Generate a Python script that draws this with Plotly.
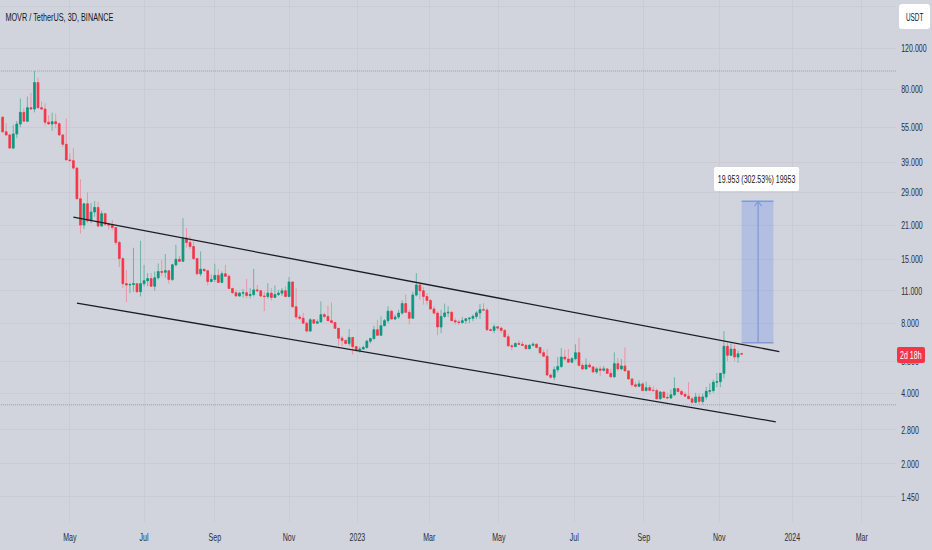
import math
import pandas as pd
import plotly.graph_objects as go

# MOVR/USDT 3D candles
first_open = 60.7
closes = [
    52.6, 51.0, 44.8, 51.5, 56.8, 63.7, 58.4, 66.7, 65.8, 85.4,
    66.7, 65.8, 57.8, 56.8, 58.1, 57.0, 51.0, 46.5, 39.9, 39.6,
    36.8, 27.2, 21.0, 25.9, 21.9, 23.9, 25.0, 20.8, 23.5, 21.2,
    21.0, 20.5, 17.7, 15.1, 11.8, 11.65, 11.7, 11.8, 10.9, 11.8,
    12.15, 12.4, 11.5, 12.5, 13.3, 13.2, 13.4, 12.3, 14.2, 15.0,
    14.7, 18.5, 17.7, 17.0, 15.1, 13.0, 13.6, 13.4, 12.05, 12.3,
    12.8, 11.95, 13.0, 12.7, 11.25, 10.8, 10.45, 10.75, 10.8, 10.5,
    10.6, 11.1, 11.0, 10.45, 10.4, 10.75, 10.3, 10.6, 10.75, 11.0,
    10.4, 12.0, 9.4, 8.5, 8.4, 8.0, 7.4, 8.27, 8.0, 8.1,
    8.7, 8.55, 8.2, 8.05, 7.6, 6.9, 6.75, 6.55, 6.95, 6.35,
    6.12, 6.2, 6.3, 6.7, 6.87, 7.5, 7.1, 7.8, 8.2, 9.0,
    8.33, 8.5, 8.83, 9.7, 8.9, 8.4, 10.55, 11.65, 11.0, 10.4,
    10.0, 9.2, 8.83, 7.7, 8.55, 8.85, 8.9, 8.2, 8.1, 8.05,
    8.2, 8.35, 8.4, 8.55, 8.85, 9.13, 9.1, 7.5, 7.45, 7.72,
    7.62, 7.45, 7.0, 6.4, 6.35, 6.55, 6.5, 6.43, 6.22, 6.43,
    6.5, 6.3, 5.98, 5.78, 4.8, 4.7, 5.06, 5.22, 5.73, 5.62,
    5.45, 5.64, 5.98, 5.28, 5.1, 5.3, 5.2, 4.95, 5.1, 5.03,
    5.1, 4.88, 4.72, 5.37, 5.1, 5.25, 5.0, 4.62, 4.36, 4.3,
    4.4, 4.12, 4.24, 4.13, 4.12, 3.8, 4.06, 3.85, 3.83, 3.95,
    4.2, 4.08, 3.97, 3.9, 3.8, 3.67, 3.87, 3.7, 3.87, 4.09,
    4.12, 4.47, 4.5, 4.88, 6.37, 5.83, 6.2, 5.73, 5.92, 5.9,
]
highs = [
    61.5, 57.2, 51.5, 56.3, 58.5, 73.0, 66.3, 74.4, 77.3, 95.7,
    89.6, 70.8, 69.7, 62.0, 63.5, 62.9, 57.6, 51.5, 59.9, 42.6,
    44.8, 37.2, 33.0, 25.9, 29.0, 26.1, 26.6, 26.4, 24.2, 23.7,
    21.6, 22.1, 20.5, 18.0, 15.3, 13.5, 11.9, 16.8, 11.8, 18.0,
    14.2, 13.1, 13.1, 13.3, 14.4, 14.9, 15.8, 13.4, 14.35, 17.3,
    15.5, 22.5, 20.4, 18.8, 17.9, 15.1, 16.2, 13.6, 13.5, 12.9,
    14.35, 13.6, 13.3, 14.2, 12.9, 11.35, 11.1, 10.9, 11.2, 12.35,
    11.3, 13.65, 11.65, 11.1, 10.9, 11.85, 11.3, 11.6, 11.1, 11.3,
    11.5, 12.6, 12.0, 11.3, 8.7, 8.85, 8.15, 8.4, 8.3, 8.3,
    9.9, 8.85, 9.5, 9.8, 8.1, 7.6, 7.05, 6.8, 7.55, 6.95,
    6.35, 6.35, 6.4, 6.8, 6.93, 7.8, 8.27, 8.55, 8.33, 9.45,
    9.13, 8.7, 9.13, 10.0, 10.6, 9.13, 10.9, 13.1, 11.85, 11.4,
    10.75, 10.15, 9.45, 9.0, 9.13, 9.7, 9.45, 9.0, 8.4, 8.27,
    8.5, 8.42, 8.5, 8.7, 9.0, 9.65, 9.75, 9.3, 7.6, 7.9,
    7.7, 7.72, 7.55, 7.2, 6.5, 6.62, 6.75, 6.7, 6.5, 6.5,
    6.62, 6.55, 6.32, 6.16, 6.2, 4.88, 5.22, 5.73, 6.26, 6.16,
    6.2, 5.73, 6.5, 6.93, 5.4, 5.65, 5.42, 5.25, 5.2, 5.25,
    5.25, 5.15, 5.1, 6.0, 5.67, 5.62, 6.3, 5.02, 4.65, 4.5,
    4.56, 4.47, 4.5, 4.36, 4.3, 4.21, 4.09, 4.09, 4.03, 4.16,
    4.7, 4.23, 4.16, 4.05, 4.47, 3.87, 4.03, 4.0, 4.0, 4.27,
    4.42, 4.59, 4.9, 4.9, 7.4, 6.6, 6.55, 6.47, 6.12, 5.98,
]
lows = [
    52.2, 50.5, 44.7, 44.3, 49.4, 55.0, 58.2, 57.9, 65.8, 63.7,
    66.0, 65.2, 55.9, 56.3, 53.2, 54.5, 50.5, 45.2, 39.9, 39.6,
    36.2, 27.2, 19.3, 20.2, 21.4, 21.4, 22.8, 20.5, 20.8, 20.8,
    20.05, 19.9, 17.3, 13.9, 11.3, 9.85, 10.75, 10.9, 10.75, 10.4,
    11.5, 11.5, 11.5, 11.0, 12.3, 12.7, 12.5, 11.8, 12.1, 14.0,
    14.6, 14.7, 16.8, 16.6, 14.9, 12.9, 12.7, 13.3, 11.6, 11.95,
    12.0, 11.95, 11.85, 12.6, 11.2, 10.65, 10.4, 10.4, 10.3, 10.2,
    10.2, 10.4, 11.0, 10.3, 9.0, 10.2, 10.0, 10.25, 10.45, 10.45,
    10.3, 10.3, 9.35, 8.27, 8.27, 7.95, 7.3, 7.35, 7.95, 8.0,
    8.05, 8.4, 8.2, 8.0, 7.55, 6.4, 6.4, 6.47, 6.4, 5.87,
    6.05, 5.98, 6.16, 6.22, 6.55, 6.8, 7.05, 7.1, 7.8, 8.0,
    8.27, 8.27, 8.33, 8.7, 8.83, 7.9, 8.35, 10.4, 10.07, 9.6,
    9.6, 9.13, 8.7, 7.1, 7.25, 8.4, 8.5, 8.15, 7.9, 7.85,
    7.95, 7.95, 8.0, 8.15, 8.33, 8.33, 9.07, 7.4, 7.4, 7.25,
    7.45, 7.25, 6.93, 6.35, 6.12, 6.35, 6.45, 6.4, 6.2, 6.24,
    6.37, 6.24, 5.87, 5.73, 4.75, 4.62, 4.56, 4.93, 5.15, 5.53,
    5.4, 5.4, 5.55, 5.22, 5.03, 5.08, 5.15, 4.88, 4.85, 4.75,
    4.97, 4.85, 4.67, 4.67, 5.0, 5.03, 4.97, 4.59, 4.27, 4.24,
    4.27, 4.09, 4.09, 4.09, 4.09, 3.77, 3.77, 3.83, 3.8, 3.79,
    3.9, 4.05, 3.92, 3.87, 3.79, 3.63, 3.63, 3.6, 3.6, 3.77,
    3.96, 4.03, 4.26, 4.26, 4.65, 5.5, 5.78, 5.5, 5.42, 5.88,
]

# axis ticks: price ticks, 180 sits behind the USDT button so it has no label
price_ticks = [180, 120, 80, 55, 39, 29, 21, 15, 11, 8, 5.5, 4, 2.8, 2, 1.45]
price_labels = ["", "120.000", "80.000", "55.000", "39.000", "29.000", "21.000", "15.000",
                "11.000", "8.000", "5.500", "4.000", "2.800", "2.000", "1.450"]
# ticks sit on the bar nearest the month start
month_ticks = ["2022-04-30", "2022-07-02", "2022-08-31", "2022-11-02", "2022-12-30", "2023-03-01",
               "2023-04-29", "2023-07-02", "2023-08-30", "2023-11-02", "2024-01-03", "2024-03-02"]
month_labels = ["May", "Jul", "Sep", "Nov", "2023", "Mar", "May", "Jul", "Sep", "Nov", "2024", "Mar"]

# drawings
upper_dates = ["2022-05-03", "2023-12-23"]
upper_prices = [22.7, 6.05]
lower_dates = ["2022-05-06", "2023-12-20"]
lower_prices = [9.75, 3.03]
dotted_levels = [95.7, 3.58]
target_dates = ["2023-11-21", "2023-12-18"]
target_low = 6.595
target_high = 26.548
arrow_dates = ["2023-12-02", "2023-12-05", "2023-12-08"]
arrow_prices = [25.3, 26.548, 25.3]

BG = "#d1d4dc"
GRID = "#c9ccd5"
TEXT = "#2a2e39"
FONT = "Liberation Sans, sans-serif"
W, H = 932, 550
PLOT_W, PLOT_H = 896, 522

df = pd.DataFrame({"close": closes, "high": highs, "low": lows})
df["date"] = pd.date_range("2022-03-04", periods=len(df), freq="3D")
df["open"] = df["close"].shift(1).fillna(first_open)

fig = go.Figure()

# wicks in a paler colour, bodies on top
fig.add_trace(go.Candlestick(x=df["date"], open=df["open"], high=df["high"], low=df["low"], close=df["close"],
                             increasing=dict(line=dict(color="#6fb3a5", width=1), fillcolor="#089981"),
                             decreasing=dict(line=dict(color="#ea95a3", width=1), fillcolor="#f23645"),
                             showlegend=False))
body_hi = df[["open", "close"]].max(axis=1)
body_lo = df[["open", "close"]].min(axis=1)
fig.add_trace(go.Candlestick(x=df["date"], open=df["open"], high=body_hi, low=body_lo, close=df["close"],
                             increasing=dict(line=dict(color="#089981", width=0.6), fillcolor="#089981"),
                             decreasing=dict(line=dict(color="#f23645", width=0.6), fillcolor="#f23645"),
                             showlegend=False))

for level in dotted_levels:
    fig.add_trace(go.Scatter(x=["2022-03-01", "2024-03-31"], y=[level, level], mode="lines",
                             line=dict(color="#9a9da6", width=1, dash="1px,1px"), showlegend=False))

fig.add_trace(go.Scatter(x=upper_dates, y=upper_prices, mode="lines",
                         line=dict(color="#1b1d24", width=1.3), showlegend=False))
fig.add_trace(go.Scatter(x=lower_dates, y=lower_prices, mode="lines",
                         line=dict(color="#1b1d24", width=1.3), showlegend=False))

# measured move box
fig.add_trace(go.Scatter(x=[target_dates[0], target_dates[1], target_dates[1], target_dates[0], target_dates[0]],
                         y=[target_low, target_low, target_high, target_high, target_low],
                         mode="lines", fill="toself", fillcolor="rgba(41,98,255,0.18)",
                         line=dict(width=0), showlegend=False))
for level in [target_low, target_high]:
    fig.add_trace(go.Scatter(x=target_dates, y=[level, level], mode="lines",
                             line=dict(color="#7f9ad6", width=1.5), showlegend=False))
fig.add_trace(go.Scatter(x=[arrow_dates[1], arrow_dates[1]], y=[target_low, target_high], mode="lines",
                         line=dict(color="#7f9ad6", width=1.3), showlegend=False))
fig.add_trace(go.Scatter(x=arrow_dates, y=arrow_prices, mode="lines",
                         line=dict(color="#7f9ad6", width=1.1), showlegend=False))


def px(x):
    return x / PLOT_W


def py(y):
    return 1 - y / PLOT_H


def rounded(x0, y0, x1, y1, r):
    a, b, c, d = px(x0), py(y0), px(x1), py(y1)
    rx, ry = r / PLOT_W, r / PLOT_H
    return (f"M{a + rx},{b} L{c - rx},{b} Q{c},{b} {c},{b - ry} L{c},{d + ry} Q{c},{d} {c - rx},{d} "
            f"L{a + rx},{d} Q{a},{d} {a},{d + ry} L{a},{b - ry} Q{a},{b} {a + rx},{b} Z")


shapes = [
    dict(type="path", xref="paper", yref="paper", path=rounded(714, 167, 799, 191, 2),
         fillcolor="#ffffff", line=dict(width=0), layer="above"),
    dict(type="path", xref="paper", yref="paper", path=rounded(899, 4, 930, 29, 3),
         fillcolor="#ffffff", line=dict(width=0), layer="above"),
    dict(type="path", xref="paper", yref="paper", path=rounded(897, 347, 925, 363, 2),
         fillcolor="#f23645", line=dict(width=0), layer="above"),
]

annotations = [
    dict(text="MOVR / TetherUS, 3D, BINANCE", xref="paper", yref="paper", x=px(59.5), y=py(17),
         xanchor="center", yanchor="middle", showarrow=False, font=dict(family=FONT, size=11.4, color="#131722")),
    dict(text="19.953 (302.53%) 19953", xref="paper", yref="paper", x=px(756.5), y=py(179),
         xanchor="center", yanchor="middle", showarrow=False, font=dict(family=FONT, size=11, color="#131722")),
    dict(text="USDT", xref="paper", yref="paper", x=px(914.5), y=py(17),
         xanchor="center", yanchor="middle", showarrow=False, font=dict(family=FONT, size=10, color="#131722")),
    dict(text="2d 18h", xref="paper", yref="paper", x=px(911), y=py(355),
         xanchor="center", yanchor="middle", showarrow=False, font=dict(family=FONT, size=11, color="#ffffff")),
]

fig.update_layout(
    width=W, height=H,
    autosize=False,
    margin=dict(l=0, r=W - PLOT_W, t=0, b=H - PLOT_H, pad=0),
    paper_bgcolor=BG,
    plot_bgcolor=BG,
    showlegend=False,
    font=dict(family=FONT, size=11, color=TEXT),
    shapes=shapes,
    annotations=annotations,
    xaxis=dict(
        type="date",
        automargin=False,
        range=["2022-03-01 18:00", "2024-03-31 00:00"],
        rangeslider=dict(visible=False),
        tickmode="array", tickvals=month_ticks, ticktext=month_labels,
        showgrid=True, gridcolor=GRID, gridwidth=1,
        zeroline=False, showline=False,
        ticks="outside", ticklen=5, tickcolor="rgba(0,0,0,0)",
        tickfont=dict(family=FONT, size=11, color=TEXT),
    ),
    yaxis=dict(
        type="log",
        side="right",
        automargin=False,
        range=[math.log10(1.13), math.log10(192.5)],
        tickmode="array", tickvals=price_ticks, ticktext=price_labels,
        showgrid=True, gridcolor=GRID, gridwidth=1,
        zeroline=False, showline=False,
        ticks="outside", ticklen=2, tickcolor="rgba(0,0,0,0)",
        tickfont=dict(family=FONT, size=11, color=TEXT),
    ),
)

# no page margin, and the source's squeezed text widths
squeeze = """
document.body.style.margin = '0';
document.querySelectorAll('.xtick text, .ytick text, .annotation-text').forEach(function (t) {
    t.setAttribute('textLength', t.getComputedTextLength() * 0.64);
    t.setAttribute('lengthAdjust', 'spacingAndGlyphs');
});
"""
fig.write_html("out.html", post_script=squeeze, config=dict(displayModeBar=False))
